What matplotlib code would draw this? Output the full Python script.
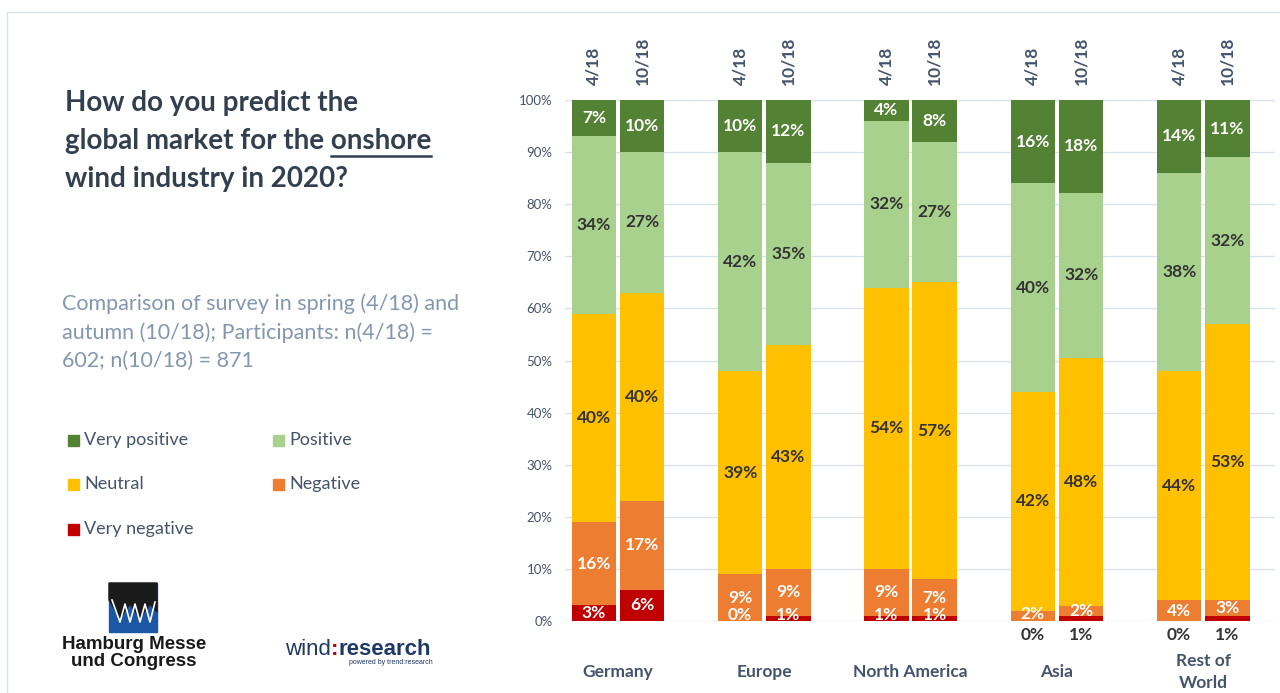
import numpy as np
import matplotlib
matplotlib.use("Agg")
import matplotlib.pyplot as plt
from matplotlib.patches import Rectangle, Polygon
from matplotlib.lines import Line2D

# survey results, share of answers in % (label values as shown)
regions = ["Germany", "Europe", "North America", "Asia", "Rest of\nWorld"]
waves = ["4/18", "10/18"]
categories = ["Very negative", "Negative", "Neutral", "Positive", "Very positive"]
very_negative = [3, 6, 0, 1, 1, 1, 0, 1, 0, 1]
negative = [16, 17, 9, 9, 9, 7, 2, 2, 4, 3]
neutral = [40, 40, 39, 43, 54, 57, 42, 48, 44, 53]
positive = [34, 27, 42, 35, 32, 27, 40, 32, 38, 32]
very_positive = [7, 10, 10, 12, 4, 8, 16, 18, 14, 11]
colors = ["#C00000", "#ED7D31", "#FFC000", "#A9D18E", "#548235"]
label_colors = ["white", "white", "#333333", "#333333", "white"]

W, H = 1280, 693
FONT = "Lato"
SLATE = "#44546A"
plt.rcParams["font.family"] = [FONT, "DejaVu Sans"]

fig = plt.figure(figsize=(W / 100, H / 100), dpi=100)


def fx(x):
    return x / W


def fy(y):
    return 1 - y / H


# thin slide frame
fig.patches.append(Rectangle((fx(7), fy(700)), fx(1300), (700 - 12) / H,
                             transform=fig.transFigure, fill=False,
                             ec="#DDE3EA", lw=1))

# ---- chart ----
ax = fig.add_axes([fx(565), fy(621), (1275 - 565) / W, (621 - 100) / H])
series = np.array([very_negative, negative, neutral, positive, very_positive], float)
shares = series / series.sum(axis=0) * 100

group = np.repeat(np.arange(len(regions)), 2)
offset = np.tile([-0.165, 0.165], len(regions))
xpos = group + offset
width = 0.305

bottom = np.zeros(len(xpos))
for i, cat in enumerate(categories):
    ax.bar(xpos, shares[i], width, bottom=bottom, color=colors[i],
           label=cat, zorder=2)
    for j, x in enumerate(xpos):
        val = series[i][j]
        txt = f"{val:.0f}%"
        y = bottom[j] + shares[i][j] / 2
        col = label_colors[i]
        if i == 0:
            if group[j] >= 3:
                y = -2.6
                col = "#333333"
            else:
                y = max(y, 1.2)
        elif i == 1 and shares[i][j] < 5:
            y = max(y, 1.4)
        ax.text(x, y, txt, ha="center", va="center", color=col,
                fontsize=12.5, fontweight="bold", zorder=3, clip_on=False)
    bottom += shares[i]

ax.set_ylim(0, 100)
ax.set_xlim(-0.362, 4.49)
ax.set_yticks(np.arange(0, 101, 10))
ax.set_yticklabels([f"{v}%" for v in range(0, 101, 10)])
ax.tick_params(axis="y", length=0, pad=9, labelsize=9.5, labelcolor=SLATE)
ax.set_xticks([])
ax.grid(axis="y", color="#D9E1EA", lw=1, zorder=0)
for s in ax.spines.values():
    s.set_visible(False)

for j, x in enumerate(xpos):
    ax.text(x, 102.9, waves[j % 2], rotation=90, ha="center", va="bottom",
            fontsize=12.5, fontweight="bold", color=SLATE, clip_on=False)
for g, name in enumerate(regions):
    ax.text(g, -9.8, name, ha="center", va="center", fontsize=12.5,
            fontweight="bold", color=SLATE, clip_on=False, linespacing=1.45)

# ---- left panel ----
TITLE = "#323F4F"
title_lines = ["How do you predict the", "global market for the onshore",
               "wind industry in 2020?"]
tsize = 20
for line, yb in zip(title_lines, [111, 149, 187]):
    t = fig.text(fx(65), fy(yb), line, fontsize=tsize, fontweight="bold",
                 color=TITLE, va="baseline", ha="left")
    if "onshore" in line:
        line2 = t

fig.canvas.draw()
r = fig.canvas.get_renderer()
bb = line2.get_window_extent(r)
probe = fig.text(0, 0, "onshore", fontsize=tsize, fontweight="bold")
wo = probe.get_window_extent(r).width
probe.remove()
fig.lines.append(Line2D([(bb.x1 - wo) / W, bb.x1 / W], [fy(156), fy(156)],
                        transform=fig.transFigure, color=TITLE, lw=1.8))

fig.text(fx(62), fy(293),
         "Comparison of survey in spring (4/18) and\n"
         "autumn (10/18); Participants: n(4/18) =\n602; n(10/18) = 871",
         fontsize=15.5, color="#8497B0", va="top", ha="left",
         linespacing=1.52)

# legend
leg_pos = [(68, 529), (273, 484), (68, 484), (273, 440), (68, 440)]
for i, cat in enumerate(categories):
    lx, ly = leg_pos[i]
    fig.patches.append(Rectangle((fx(lx), fy(ly + 6)), 11 / W, 11 / H,
                                 transform=fig.transFigure, color=colors[i]))
    fig.text(fx(lx + 16), fy(ly), cat, fontsize=13, color=SLATE,
             va="center", ha="left")

# Hamburg Messe logo
fig.patches.append(Rectangle((fx(109), fy(632)), 48 / W, 49 / H,
                             transform=fig.transFigure, color="#1C57A5"))
fig.patches.append(Polygon([(fx(109), fy(583)), (fx(157), fy(583)),
                            (fx(157), fy(612)), (fx(150), fy(604)),
                            (fx(140), fy(618)), (fx(130), fy(604)),
                            (fx(120), fy(618)), (fx(109), fy(600))],
                           transform=fig.transFigure, color="#1A1A1A"))
fig.lines.append(Line2D([fx(v) for v in [112, 120, 125, 130, 135, 140, 145, 150, 155]],
                        [fy(v) for v in [600, 622, 604, 622, 604, 622, 604, 622, 602]],
                        transform=fig.transFigure, color="white", lw=1.2))
fig.text(fx(134), fy(653), "Hamburg Messe\nund Congress", fontsize=13.5,
         fontweight="bold", color="#1A1A1A", ha="center", va="center",
         family="Liberation Sans", linespacing=1.0)

# wind:research logo
fig.canvas.draw()
x0 = fx(285)
for part, wt, col in [("wind", "normal", "#1F3864"), (":", "bold", "#C00000"),
                      ("research", "bold", "#1F3864")]:
    t = fig.text(x0, fy(655), part, fontsize=16, fontweight=wt, color=col,
                 ha="left", va="baseline", family="Liberation Sans")
    x0 += t.get_window_extent(r).width / W
fig.text(fx(433), fy(664), "powered by trend:research", fontsize=5,
         color="#1F3864", ha="right", va="baseline", family="Liberation Sans")

fig.savefig("out.png", dpi=100, facecolor="white")
